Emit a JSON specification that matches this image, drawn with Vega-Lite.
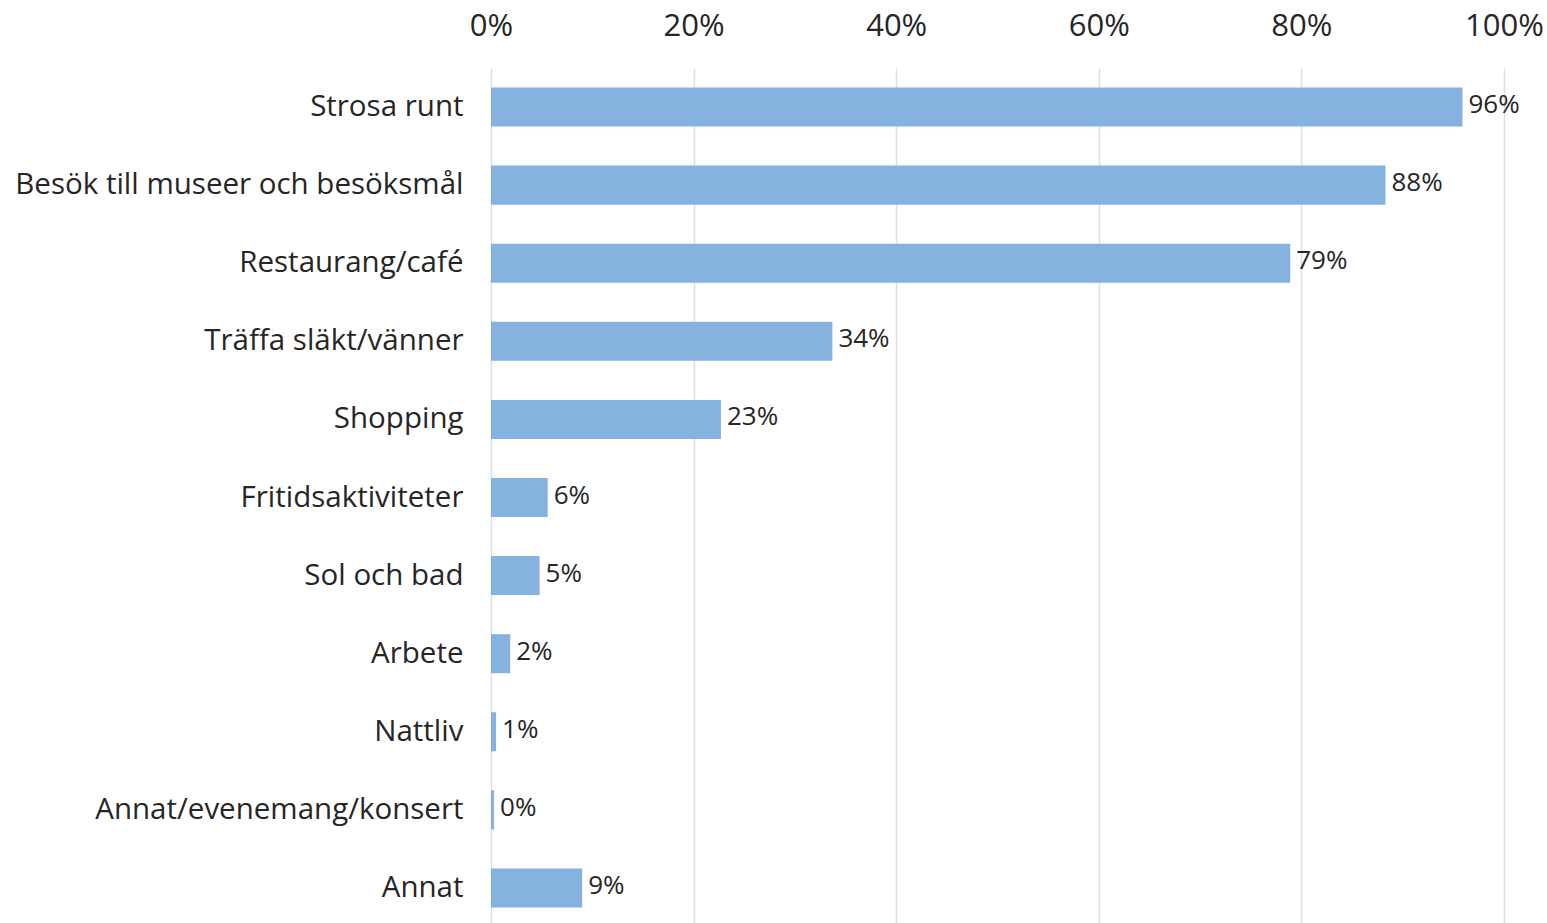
{
  "$schema": "https://vega.github.io/schema/vega-lite/v6.json",
  "autosize": {"type": "none"},
  "padding": {"left": 491, "top": 68, "right": 43, "bottom": 0},
  "width": 1013,
  "height": 859,
  "background": "white",
  "config": {
    "view": {"stroke": null},
    "font": "Open Sans",
    "text": {"font": "Open Sans"}
  },
  "data": {
    "values": [
      {"activity": "Strosa runt", "value": 95.9, "label": "96%"},
      {"activity": "Besök till museer och besöksmål", "value": 88.3, "label": "88%"},
      {"activity": "Restaurang/café", "value": 78.9, "label": "79%"},
      {"activity": "Träffa släkt/vänner", "value": 33.7, "label": "34%"},
      {"activity": "Shopping", "value": 22.7, "label": "23%"},
      {"activity": "Fritidsaktiviteter", "value": 5.6, "label": "6%"},
      {"activity": "Sol och bad", "value": 4.8, "label": "5%"},
      {"activity": "Arbete", "value": 1.9, "label": "2%"},
      {"activity": "Nattliv", "value": 0.5, "label": "1%"},
      {"activity": "Annat/evenemang/konsert", "value": 0.3, "label": "0%"},
      {"activity": "Annat", "value": 9.0, "label": "9%"}
    ]
  },
  "encoding": {
    "y": {
      "field": "activity",
      "type": "nominal",
      "sort": null,
      "scale": {"paddingInner": 0.5, "paddingOuter": 0.25},
      "axis": {
        "title": null,
        "domain": false,
        "ticks": false,
        "labelPadding": 28,
        "labelFontSize": 29.5,
        "labelColor": "#262626",
        "labelFont": "Open Sans",
        "labelLimit": 600
      }
    },
    "x": {
      "field": "value",
      "type": "quantitative",
      "scale": {"domain": [0, 100]},
      "axis": {
        "orient": "top",
        "title": null,
        "values": [0, 20, 40, 60, 80, 100],
        "labelExpr": "datum.value + '%'",
        "labelFlush": false,
        "labelBound": false,
        "domain": false,
        "ticks": false,
        "labelPadding": 26,
        "labelFontSize": 31,
        "labelColor": "#262626",
        "labelFont": "Open Sans",
        "gridColor": "#D9E0EA",
        "gridWidth": 1.5
      }
    }
  },
  "layer": [
    {"mark": {"type": "bar", "color": "#85B2DF"}},
    {
      "mark": {"type": "text", "align": "left", "baseline": "middle", "dx": 6, "dy": -2, "fontSize": 26, "color": "#262626"},
      "encoding": {"text": {"field": "label"}}
    }
  ]
}
